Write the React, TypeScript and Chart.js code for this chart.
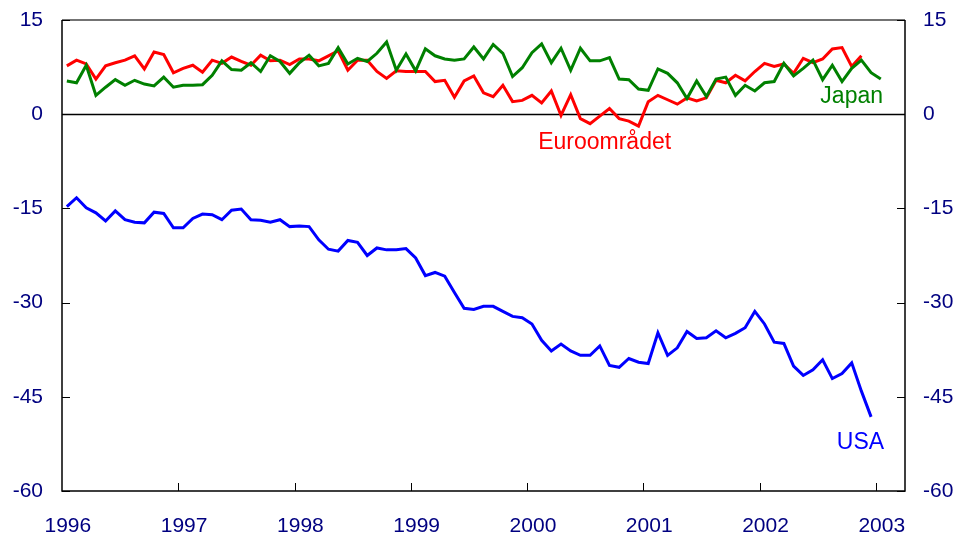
import React, { useEffect, useRef } from "react";
import { Chart, registerables } from "chart.js";

Chart.register(...registerables);

const yearLabels = ["1996", "1997", "1998", "1999", "2000", "2001", "2002", "2003"];
const monthNames = ["01", "02", "03", "04", "05", "06", "07", "08", "09", "10", "11", "12"];
const monthCount = 87; // Jan 1996 .. Mar 2003
const categories: string[] = yearLabels
  .flatMap((y) => monthNames.map((m) => `${y}-${m}`))
  .slice(0, monthCount);

const yTicks = [15, 0, -15, -30, -45, -60];

const japan = [
  5.3, 5.0, 7.8, 3.0, 4.3, 5.5, 4.6, 5.4, 4.8, 4.5, 5.9, 4.3,
  4.6, 4.6, 4.7, 6.2, 8.5, 7.1, 7.0, 8.2, 6.8, 9.3, 8.4, 6.5,
  8.2, 9.4, 7.7, 8.1, 10.6, 8.0, 8.9, 8.4, 9.7, 11.5, 7.0, 9.6,
  6.9, 10.4, 9.3, 8.8, 8.6, 8.8, 10.7, 8.8, 11.1, 9.7, 6.0, 7.4,
  9.8, 11.2, 8.2, 10.5, 7.0, 10.5, 8.5, 8.5, 9.0, 5.6, 5.5, 4.0,
  3.8, 7.2, 6.5, 5.0, 2.5, 5.3, 2.8, 5.6, 5.9, 3.0, 4.6, 3.7,
  5.0, 5.2, 8.1, 6.1, 7.3, 8.6, 5.5, 7.8, 5.2, 7.3, 8.6, 6.6,
  5.6,
];

const euro = [
  7.7, 8.6, 8.0, 5.6, 7.7, 8.2, 8.6, 9.3, 7.2, 9.9, 9.5, 6.6,
  7.3, 7.8, 6.7, 8.6, 8.1, 9.1, 8.4, 7.8, 9.4, 8.5, 8.6, 7.9,
  8.8, 8.8, 8.5, 9.3, 10.1, 7.0, 8.6, 8.6, 6.8, 5.7, 6.9, 6.8,
  6.8, 6.8, 5.2, 5.4, 2.7, 5.3, 6.1, 3.4, 2.8, 4.6, 2.0, 2.2,
  3.0, 1.8, 3.7, -0.2, 3.1, -0.7, -1.5, -0.3, 0.9, -0.7, -1.1, -1.9,
  2.0, 3.0, 2.3, 1.6, 2.6, 2.1, 2.6, 5.4, 5.0, 6.2, 5.3, 6.8,
  8.1, 7.6, 8.0, 6.5, 8.9, 8.2, 8.8, 10.4, 10.6, 7.6, 9.3,
];

const usa = [
  -14.7, -13.3, -14.9, -15.7, -17.0, -15.4, -16.8, -17.2, -17.3, -15.6, -15.8, -18.1,
  -18.1, -16.6, -15.9, -16.0, -16.8, -15.3, -15.1, -16.8, -16.9, -17.2, -16.8, -17.9,
  -17.8, -17.9, -20.0, -21.5, -21.8, -20.1, -20.4, -22.5, -21.3, -21.6, -21.6, -21.4,
  -22.9, -25.7, -25.2, -25.8, -28.4, -30.9, -31.1, -30.6, -30.6, -31.4, -32.2, -32.4,
  -33.4, -36.0, -37.7, -36.6, -37.7, -38.4, -38.4, -36.9, -40.0, -40.3, -38.9, -39.5,
  -39.7, -34.8, -38.4, -37.2, -34.6, -35.7, -35.6, -34.5, -35.6, -34.9, -34.0, -31.4,
  -33.4, -36.3, -36.5, -40.1, -41.6, -40.7, -39.1, -42.1, -41.3, -39.6, -44.1, -48.2,
];

const seriesNames = ["Japan", "Euroområdet", "USA"];
const seriesColors = ["#008000", "#FF0000", "#0000FF"];
// label anchor: [category index, value]
const labelAnchors: [number, number][] = [
  [81.0, 2.75],
  [55.5, -4.6],
  [81.9, -52.3],
];

const FONT = "'Liberation Sans', Arial, Helvetica, sans-serif";
const NAVY = "#000080";

const framePlugin = {
  id: "frameAndTicks",
  beforeDatasetsDraw(chart: any) {
    const { ctx, chartArea, scales } = chart;
    const y = scales.y;
    ctx.save();
    ctx.strokeStyle = "#000";
    ctx.lineWidth = 1.5;
    const zy = Math.round(y.getPixelForValue(0)) + 0.5;
    ctx.beginPath();
    ctx.moveTo(chartArea.left, zy);
    ctx.lineTo(chartArea.right, zy);
    ctx.stroke();
    ctx.restore();
  },
  afterDatasetsDraw(chart: any) {
    const { ctx, chartArea, scales } = chart;
    const x = scales.x;
    const y = scales.y;
    const { left, right, top, bottom } = chartArea;
    ctx.save();
    ctx.lineWidth = 1.5;
    ctx.strokeStyle = "#000";
    ctx.beginPath();
    ctx.moveTo(left, top);
    ctx.lineTo(left, bottom);
    ctx.lineTo(right, bottom);
    ctx.lineTo(right, top);
    ctx.stroke();
    ctx.strokeStyle = "#444";
    ctx.beginPath();
    ctx.moveTo(left, top);
    ctx.lineTo(right, top);
    ctx.stroke();
    ctx.lineWidth = 1;
    ctx.strokeStyle = "#000";
    yTicks.forEach((v) => {
      const py = Math.round(y.getPixelForValue(v)) + 0.5;
      ctx.beginPath();
      ctx.moveTo(left, py);
      ctx.lineTo(left + 8, py);
      ctx.moveTo(right - 8, py);
      ctx.lineTo(right, py);
      ctx.stroke();
    });
    const half = (x.getPixelForValue(1) - x.getPixelForValue(0)) / 2;
    yearLabels.forEach((_, k) => {
      const idx = k * 12;
      if (idx === 0) return;
      const px = Math.round(x.getPixelForValue(idx) - half) + 0.5;
      ctx.beginPath();
      ctx.moveTo(px, bottom);
      ctx.lineTo(px, bottom - 8);
      ctx.stroke();
    });
    ctx.font = `23px ${FONT}`;
    ctx.textAlign = "center";
    ctx.textBaseline = "middle";
    seriesNames.forEach((name, i) => {
      const [ci, val] = labelAnchors[i];
      ctx.fillStyle = seriesColors[i];
      ctx.fillText(name, x.getPixelForValue(ci), y.getPixelForValue(val));
    });
    ctx.restore();
  },
};

export default function App() {
  const ref = useRef<HTMLCanvasElement | null>(null);

  useEffect(() => {
    document.body.style.margin = "0";
    const canvas = ref.current;
    if (!canvas) return;
    const chart = new Chart(canvas, {
      type: "line",
      data: {
        labels: categories,
        datasets: [
          { label: seriesNames[0], data: japan, borderColor: seriesColors[0], yAxisID: "y" },
          { label: seriesNames[1], data: euro, borderColor: seriesColors[1], yAxisID: "y" },
          { label: seriesNames[2], data: usa, borderColor: seriesColors[2], yAxisID: "y" },
        ].map((d) => ({
          ...d,
          borderWidth: 3,
          pointRadius: 0,
          tension: 0,
          fill: false,
          borderJoinStyle: "miter" as const,
        })),
      },
      options: {
        responsive: false,
        animation: false,
        maintainAspectRatio: false,
        layout: { padding: { top: 20, left: 0, right: 0, bottom: 0 } },
        plugins: {
          legend: { display: false },
          tooltip: { enabled: false },
        },
        scales: {
          x: {
            type: "category",
            offset: true,
            grid: { display: false, drawTicks: false, offset: true },
            border: { display: false },
            ticks: {
              autoSkip: false,
              maxRotation: 0,
              minRotation: 0,
              padding: 23,
              labelOffset: 1,
              color: NAVY,
              font: { family: FONT, size: 21 },
              callback: (_v: any, idx: number) =>
                idx % 12 === 0 ? yearLabels[idx / 12] : "",
            },
            afterFit: (s: any) => {
              s.height = 45;
              s.paddingLeft = 0;
              s.paddingRight = 0;
            },
          },
          y: {
            type: "linear",
            position: "left",
            min: -60,
            max: 15,
            grid: { display: false, drawTicks: false },
            border: { display: false },
            ticks: {
              stepSize: 15,
              padding: 19,
              color: NAVY,
              font: { family: FONT, size: 21 },
            },
            afterFit: (s: any) => {
              s.width = 62;
              s.paddingTop = 0;
              s.paddingBottom = 0;
            },
          },
          y2: {
            type: "linear",
            position: "right",
            min: -60,
            max: 15,
            grid: { display: false, drawTicks: false },
            border: { display: false },
            ticks: {
              stepSize: 15,
              padding: 18,
              color: NAVY,
              font: { family: FONT, size: 21 },
            },
            afterFit: (s: any) => {
              s.width = 56;
              s.paddingTop = 0;
              s.paddingBottom = 0;
            },
          },
        },
      },
      plugins: [framePlugin],
    });
    return () => chart.destroy();
  }, []);

  return (
    <div style={{ position: "absolute", left: 0, top: 0, width: 961, height: 536, background: "#fff" }}>
      <canvas ref={ref} width={961} height={536} />
    </div>
  );
}
